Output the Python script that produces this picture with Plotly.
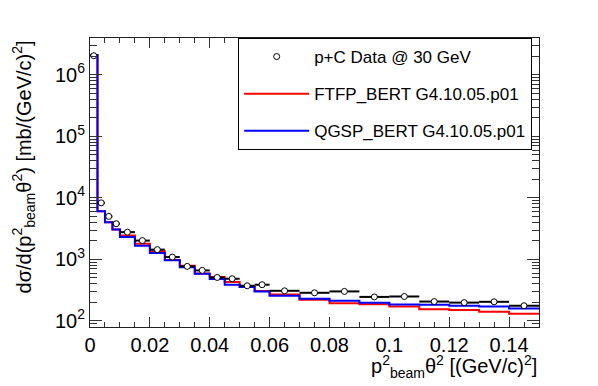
import plotly.graph_objects as go

# bin edges in p_beam^2 theta^2 [(GeV/c)^2]
edges = [0, 0.0025, 0.005, 0.0075, 0.01, 0.015, 0.02, 0.025, 0.03, 0.035, 0.04,
         0.045, 0.05, 0.055, 0.06, 0.07, 0.08, 0.09, 0.10, 0.11, 0.12, 0.13, 0.14, 0.15]

# measured cross section (mb/(GeV/c)^2)
data_vals = [2.05e6, 8300, 5000, 3800, 2770, 2020, 1440, 1090, 769, 661, 508, 484,
             372, 387, 308, 286, 301, 245, 249, 206, 198, 204, 176]
data_err = [4e4, 250, 150, 110, 80, 60, 45, 35, 25, 20, 16, 15,
            12, 12, 10, 9, 9, 8, 8, 7, 7, 7, 6]

# model predictions
ftfp_vals = [2.1e6, 6070, 4020, 3050, 2450, 1800, 1350, 975, 789, 590, 516, 428,
             360, 307, 268, 220, 194, 187, 171, 155, 150, 140, 130]
qgsp_vals = [2.1e6, 6070, 4020, 3050, 2320, 1670, 1270, 964, 741, 585, 479, 387,
             355, 301, 256, 228, 212, 197, 185, 182, 176, 171, 159]

centers = [(a + b) / 2 for a, b in zip(edges[:-1], edges[1:])]
half_w = [(b - a) / 2 for a, b in zip(edges[:-1], edges[1:])]

font = "Liberation Sans, Arial, sans-serif"

fig = go.Figure()

# histograms first, data markers drawn on top
fig.add_trace(go.Scatter(
    x=edges, y=ftfp_vals + [ftfp_vals[-1]], mode="lines", line_shape="hv",
    name="FTFP_BERT G4.10.05.p01", line=dict(color="#ff0000", width=2),
    legendgroup="b", legendrank=2,
))
fig.add_trace(go.Scatter(
    x=edges, y=qgsp_vals + [qgsp_vals[-1]], mode="lines", line_shape="hv",
    name="QGSP_BERT G4.10.05.p01", line=dict(color="#0000ff", width=2),
    legendgroup="c", legendrank=3,
))
fig.add_trace(go.Scatter(
    x=centers, y=data_vals, mode="markers", name="p+C Data @ 30 GeV",
    marker=dict(symbol="circle", size=6, color="white", line=dict(color="black", width=1)),
    error_x=dict(type="data", array=half_w, color="black", thickness=2, width=0),
    error_y=dict(type="data", array=data_err, color="black", thickness=2, width=0),
    legendgroup="a", legendrank=1,
))

ytick_vals = [1e2, 1e3, 1e4, 1e5, 1e6]
ytick_text = ["10<sup>2</sup>", "10<sup>3</sup>", "10<sup>4</sup>", "10<sup>5</sup>", "10<sup>6</sup>"]
yminor = [k * 10 ** n for n in range(1, 7) for k in range(2, 10)]

# page body adds 8px offset, so the figure is a bit smaller than the window
fig.update_layout(
    width=590, height=378,
    margin=dict(l=82, r=59, t=30, b=59),
    paper_bgcolor="white", plot_bgcolor="white",
    font=dict(family=font, size=20, color="black"),
    showlegend=True,
    legend=dict(
        x=0.33, y=1, xanchor="left", yanchor="top",
        bgcolor="white", bordercolor="black", borderwidth=1,
        font=dict(size=17), itemwidth=65,
        traceorder="grouped", tracegroupgap=12,
    ),
    xaxis=dict(
        range=[0, 0.15], tickvals=[0, 0.02, 0.04, 0.06, 0.08, 0.1, 0.12, 0.14],
        ticktext=["0", "0.02", "0.04", "0.06", "0.08", "0.1", "0.12", "0.14"],
        ticks="inside", ticklen=10, tickcolor="#333", mirror="allticks",
        showline=True, linecolor="#222", linewidth=1, showgrid=False, zeroline=False,
        minor=dict(dtick=0.005, tick0=0, ticks="inside", ticklen=5, tickcolor="#333", showgrid=False),
    ),
    yaxis=dict(
        type="log", range=[1.90, 6.60], tickvals=ytick_vals, ticktext=ytick_text,
        ticks="inside", ticklen=12, tickcolor="#333", mirror="allticks",
        showline=True, linecolor="#222", linewidth=1, showgrid=False, zeroline=False,
        minor=dict(tickvals=yminor, ticks="inside", ticklen=7, tickcolor="#333", showgrid=False),
    ),
    annotations=[
        dict(text="p<sup>2</sup><sub>beam</sub>θ<sup>2</sup> [(GeV/c)<sup>2</sup>]",
             xref="paper", yref="paper", x=1, y=-0.078, xanchor="right", yanchor="top",
             showarrow=False, font=dict(size=20)),
        dict(text="dσ/d(p<sup>2</sup><sub>beam</sub>θ<sup>2</sup>) [mb/(GeV/c)<sup>2</sup>]",
             xref="paper", yref="paper", x=-0.147, y=1, xanchor="center", yanchor="top",
             textangle=-90, showarrow=False, font=dict(size=20)),
    ],
)

fig.write_html("out.html")
